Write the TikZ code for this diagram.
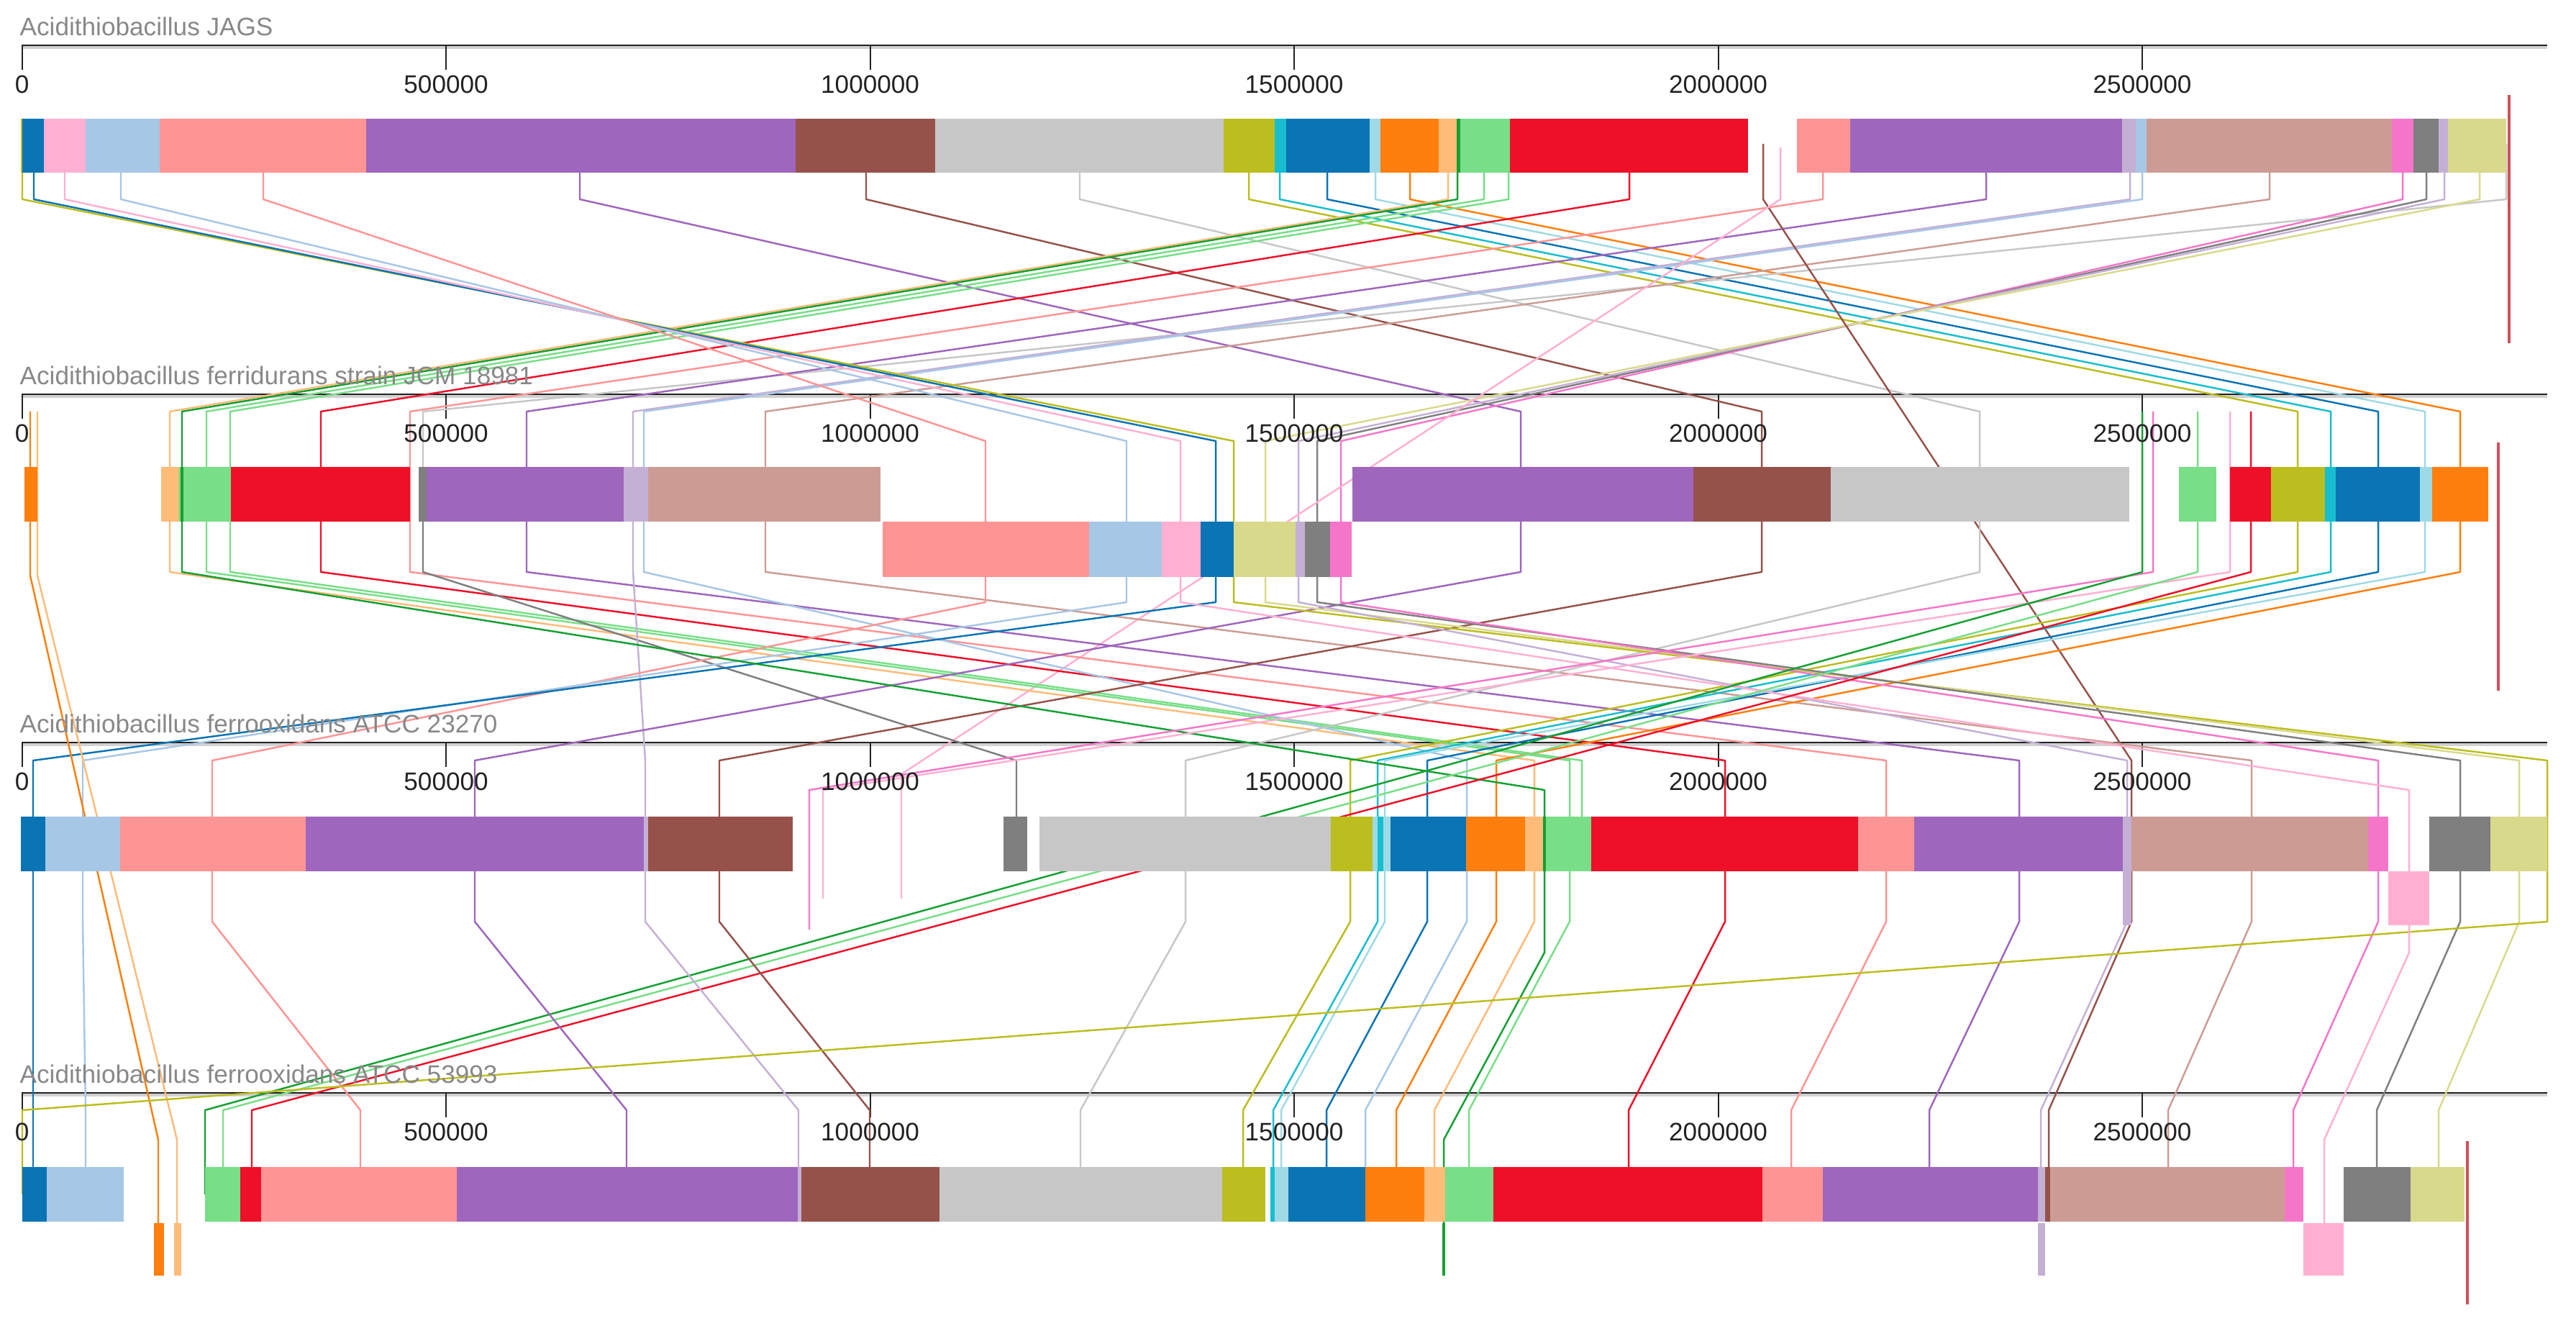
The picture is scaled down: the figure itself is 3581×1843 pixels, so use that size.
\documentclass[tikz,border=0pt]{standalone}
\usepackage{fontspec}
\setmainfont{Liberation Sans}
\definecolor{dblue}{RGB}{10,116,180}
\definecolor{lblue}{RGB}{167,199,230}
\definecolor{orng}{RGB}{255,127,14}
\definecolor{lorng}{RGB}{255,187,120}
\definecolor{grn}{RGB}{20,160,50}
\definecolor{lgrn}{RGB}{120,222,135}
\definecolor{rd}{RGB}{238,16,40}
\definecolor{salmon}{RGB}{255,148,148}
\definecolor{purp}{RGB}{158,102,188}
\definecolor{lav}{RGB}{197,176,213}
\definecolor{brwn}{RGB}{150,82,74}
\definecolor{rosy}{RGB}{204,156,148}
\definecolor{hpink}{RGB}{245,118,200}
\definecolor{lpink}{RGB}{255,176,210}
\definecolor{gry}{RGB}{127,127,127}
\definecolor{lgry}{RGB}{199,199,199}
\definecolor{olv}{RGB}{188,189,30}
\definecolor{khaki}{RGB}{217,217,140}
\definecolor{cyn}{RGB}{23,190,207}
\definecolor{lcyn}{RGB}{158,218,229}
\definecolor{endred}{RGB}{208,80,90}
\definecolor{axdark}{RGB}{34,34,34}
\definecolor{titlegray}{RGB}{136,136,136}

\begin{document}
\begin{tikzpicture}[x=0.01cm, y=-0.01cm,
  link/.style={line width=.7pt, line join=round},
  axisline/.style={line width=.8pt, draw=axdark},
  shade/.style={line width=1pt, draw=black!18},
  lab/.style={inner sep=0pt, text=axdark, font=\fontsize{10}{12}\selectfont},
  gname/.style={inner sep=0pt, anchor=west, text=titlegray, font=\fontsize{10}{12}\selectfont},
  endmark/.style={line width=1.3pt, draw=endred}]
 \useasboundingbox (0,0) rectangle (3581,1843);
 % axes and ticks
 \foreach \n/\y in {a/63, b/548, c/1032, d/1519}{
   \draw[shade] (30,\y+3) -- (3541,\y+3);
   \draw[axisline] (30,\y) -- (3541,\y);
   \foreach \k in {0,...,5}
     \draw[axisline, line width=.6pt] (30.6+589.5*\k,\y) -- ++(0,34);
 }
 % row 1 -> row 2
 \foreach \c/\a/\b in {purp/806/2114, brwn/1204/2449, lgry/1501/2752, olv/1736/3194, cyn/1779/3240, dblue/1845/3306, lcyn/1912/3371, orng/1960/3420, lorng/2013/236, grn/2026/253, lgrn/2063/287, lgrn/2097/320, rd/2265/446, salmon/2534/570, lgry/3484/588, purp/2761/732, lav/2961/880, lblue/2978/895, rosy/3155/1064}
   \draw[link, color=\c] (\a,200) -- (\a,277) -- (\b,572) -- (\b,687);
 \foreach \c/\a/\b in {olv/31/1715, dblue/47/1690, lpink/90/1641, lblue/168/1566, salmon/366/1370, hpink/3340/1864, gry/3373/1831, lav/3398/1805, khaki/3447/1759}
   \draw[link, color=\c] (\a,200) -- (\a,277) -- (\b,613) -- (\b,763);
 \draw[link, color=brwn] (2451,200) -- (2451,277) -- (2963,1057) -- (2963,1173);
 \draw[link, color=lpink] (2475,205) -- (2475,277) -- (1253,1076) -- (1253,1249);
 % row 2 -> row 3
 \foreach \c/\a/\b in {lorng/236/2133, lgrn/287/2182, lgrn/320/2199, rd/446/2398, salmon/570/2622, gry/588/1413, purp/732/2807, lav/880/897, lblue/895/2039, rosy/1064/3130, purp/2114/660, brwn/2449/1000, lgry/2752/1648, olv/3194/1877, cyn/3240/1915, dblue/3306/1984, lcyn/3371/1925, orng/3420/2080}
   \draw[link, color=\c] (\a,687) -- (\a,795) -- (\b,1057) -- (\b,1173);
 \foreach \c/\a/\b in {salmon/1370/295, lblue/1566/115, dblue/1690/46, olv/1715/3541, khaki/1759/3502, lav/1805/2957, gry/1831/3420, hpink/1864/3306}
   \draw[link, color=\c] (\a,763) -- (\a,837) -- (\b,1057) -- (\b,1173);
 \draw[link, color=lpink] (1641,763) -- (1641,837) -- (3349,1098) -- (3349,1248);
 \draw[link, color=grn] (253,687) -- (253,795) -- (2147,1098) -- (2147,1324) -- (2007,1584) -- (2007,1736);
 \draw[link, color=hpink] (2993,572) -- (2993,795) -- (1125,1098) -- (1125,1292);
 \draw[link, color=lpink] (3100,572) -- (3100,795) -- (1144,1098) -- (1144,1249);
 % row 2 -> row 4
 \foreach \c/\a/\b in {grn/2978/285, lgrn/3055/310, rd/3129/350}
   \draw[link, color=\c] (\a,572) -- (\a,795) -- (\b,1543) -- (\b,1660);
 \foreach \c/\a/\b in {orng/42/220, lorng/52/246}
   \draw[link, color=\c] (\a,572) -- (\a,800) -- (\b,1584) -- (\b,1736);
 % row 3 -> row 4
 \foreach \c/\a/\b in {dblue/46/46, lblue/115/119, salmon/295/501, purp/660/871, lav/897/1110, brwn/1000/1209, lgry/1648/1502, olv/1877/1728, cyn/1915/1770, lcyn/1925/1781, dblue/1984/1844, lblue/2039/1898, orng/2080/1941, lorng/2133/1994, lgrn/2182/2042, rd/2398/2264, salmon/2622/2490, purp/2807/2682, lav/2957/2837, brwn/2963/2848, rosy/3130/3014, hpink/3306/3188, gry/3420/3304, khaki/3502/3390, olv/3541/31}
   \draw[link, color=\c] (\a,1173) -- (\a,1281) -- (\b,1543) -- (\b,1660);
 \draw[link, color=lpink] (3349,1248) -- (3349,1324) -- (3231,1584) -- (3231,1736);
 % blocks, row 1
 \foreach \c/\a/\b in {olv/29/31, dblue/31/61, lpink/61/119, lblue/119/222, salmon/222/509, purp/509/1106, brwn/1106/1300, lgry/1300/1701, olv/1701/1772, cyn/1772/1788, dblue/1788/1904, lcyn/1904/1919, orng/1919/2000, lorng/2000/2025, grn/2025/2030, lgrn/2030/2099, rd/2099/2430, salmon/2498/2572, purp/2572/2950, lav/2950/2969, lblue/2969/2984, rosy/2984/3325, hpink/3325/3355, gry/3355/3390, lav/3390/3403, khaki/3403/3484}
   \fill[fill=\c] (\a,165) rectangle (\b,240);
 % blocks, row 2
 \foreach \c/\a/\b in {orng/34/52, lorng/224/249, lgrn/249/321, grn/251/255, rd/321/570, gry/582/593, purp/593/867, lav/867/901, rosy/901/1224, purp/1880/2354, brwn/2354/2545, lgry/2545/2960, lgrn/3029/3081, rd/3100/3157, olv/3157/3232, cyn/3232/3247, dblue/3247/3364, lcyn/3364/3381, orng/3381/3459}
   \fill[fill=\c] (\a,649) rectangle (\b,725);
 \foreach \c/\a/\b in {salmon/1227/1514, lblue/1514/1615, lpink/1615/1669, dblue/1669/1715, khaki/1715/1801, lav/1801/1814, gry/1814/1849, hpink/1849/1879}
   \fill[fill=\c] (\a,725) rectangle (\b,802);
 % blocks, row 3
 \foreach \c/\a/\b in {dblue/29/63, lblue/63/167, salmon/167/425, purp/425/895, lav/895/901, brwn/901/1102, gry/1395/1428, lgry/1445/1850, olv/1850/1908, lcyn/1908/1915, cyn/1915/1923, lcyn/1923/1933, dblue/1933/2038, orng/2038/2120, lorng/2120/2145, grn/2145/2149, lgrn/2149/2212, rd/2212/2583, salmon/2583/2661, purp/2661/2951, lav/2951/2963, rosy/2963/3292, hpink/3292/3320, gry/3377/3462, khaki/3462/3541}
   \fill[fill=\c] (\a,1135) rectangle (\b,1211);
 \foreach \c/\a/\b in {lav/2951/2963, lpink/3320/3377}
   \fill[fill=\c] (\a,1211) rectangle (\b,1286);
 % blocks, row 4
 \foreach \c/\a/\b in {dblue/31/65, lblue/65/172, lgrn/285/334, rd/334/363, salmon/363/635, purp/635/1109, lav/1109/1114, brwn/1114/1306, lgry/1306/1699, olv/1699/1759, cyn/1766/1772, lcyn/1772/1791, dblue/1791/1898, orng/1898/1980, lorng/1980/2009, lgrn/2009/2076, rd/2076/2450, salmon/2450/2534, purp/2534/2833, lav/2833/2843, brwn/2843/2850, rosy/2850/3176, hpink/3176/3202, gry/3258/3351, khaki/3351/3426}
   \fill[fill=\c] (\a,1622) rectangle (\b,1698);
 \foreach \c/\a/\b in {orng/214/228, lorng/242/252, grn/2005/2009, lav/2833/2843, lpink/3202/3258}
   \fill[fill=\c] (\a,1700) rectangle (\b,1773);
 % genome ends
 \draw[endmark] (3488,132) -- (3488,477);
 \draw[endmark] (3473,615) -- (3473,960);
 \draw[endmark] (3430,1586) -- (3430,1813);
 % names and tick labels
 \foreach \n/\y/\t in {a/63/Acidithiobacillus JAGS, b/548/Acidithiobacillus ferridurans strain JCM 18981, c/1032/Acidithiobacillus ferrooxidans ATCC 23270, d/1519/Acidithiobacillus ferrooxidans ATCC 53993}{
   \node[gname] (g\n) at (27,\y-26) {\t};
   \foreach \k/\v in {0/0, 1/500000, 2/1000000, 3/1500000, 4/2000000, 5/2500000}
     \node[lab] (t\n\k) at (30.6+589.5*\k,\y+54) {\v};
 }
\end{tikzpicture}
\end{document}
